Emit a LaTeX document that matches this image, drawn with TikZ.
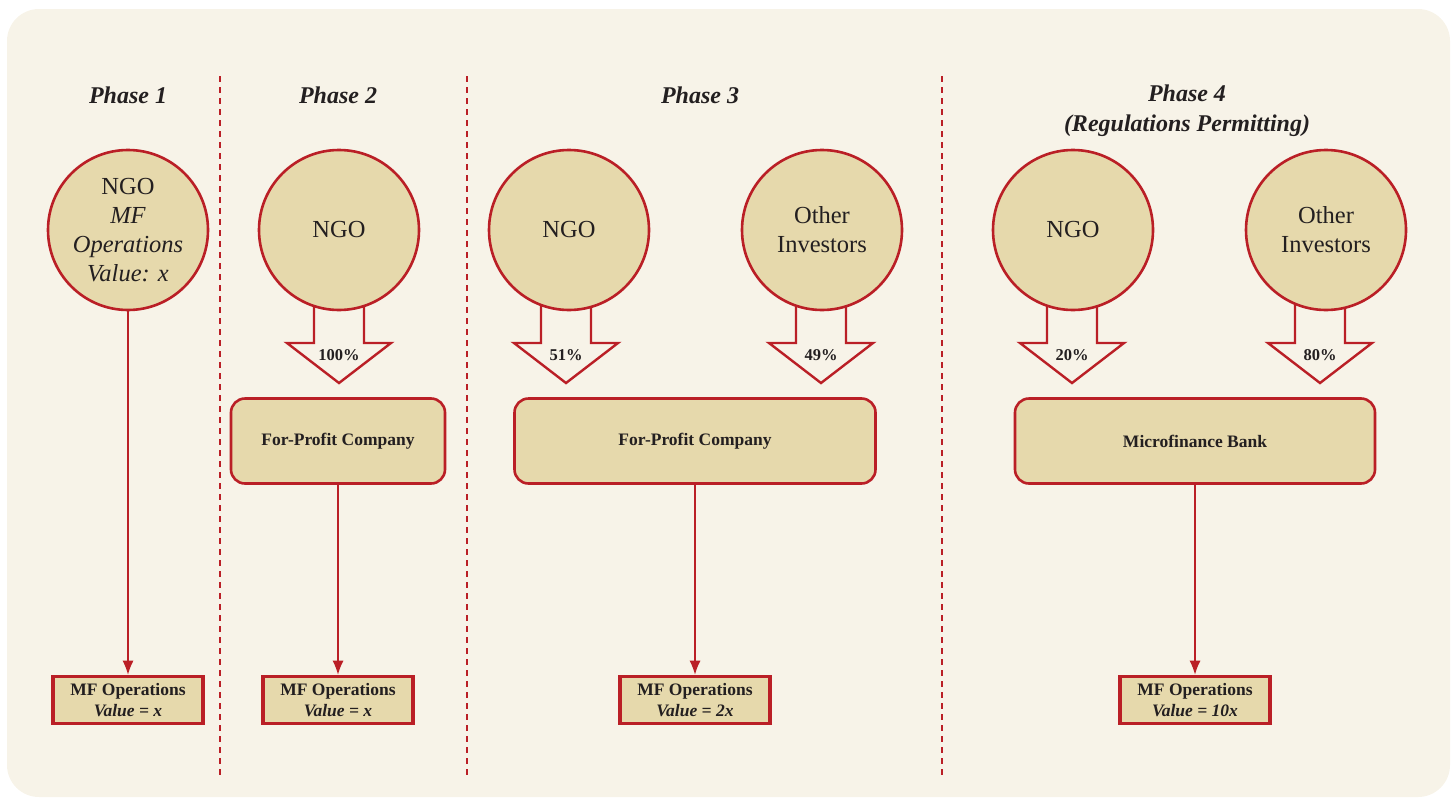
\documentclass[tikz,border=0pt]{standalone}
\usepackage{fontspec}
\setmainfont{Liberation Serif}
\usetikzlibrary{arrows.meta}
\definecolor{bgc}{HTML}{F7F3E8}
\definecolor{myred}{HTML}{BA1F26}
\definecolor{fillc}{HTML}{E6D9AC}
\definecolor{txt}{HTML}{231F20}
\newcommand\blockarr[3]{%
  \draw[blk] ({#1-25},300) -- ({#1-25},343) -- ({#1-52},343) -- (#1,383) -- ({#1+52},343) -- ({#1+25},343) -- ({#1+25},300);
  \node[pct] (#3) at (#1,355) {#2};
}
\tikzset{
  circ/.style={circle, draw=myred, line width=2.6pt, fill=fillc, minimum size=160pt, inner sep=0pt, align=center, text=txt, font=\fontsize{24.5}{29}\selectfont},
  blk/.style={draw=myred, line width=2.4pt, fill=bgc, line join=miter},
  pct/.style={font=\bfseries\fontsize{16.5}{18}\selectfont, text=txt, inner sep=0pt},
  rbox/.style={draw=myred, line width=2.6pt, fill=fillc, rounded corners=14pt, inner sep=0pt, text=txt, font=\bfseries\fontsize{17.5}{19}\selectfont},
  mfbox/.style={draw=myred, line width=3.6pt, fill=fillc, minimum width=150pt, minimum height=47pt, inner sep=0pt, align=center, text=txt, font=\bfseries\fontsize{17.5}{21}\selectfont},
  title/.style={font=\bfseries\itshape\fontsize{24}{30}\selectfont, text=txt, align=center},
  conn/.style={draw=myred, line width=1.3pt, -{Latex[length=14pt,width=11pt]}},
  sep/.style={draw=myred, line width=1.1pt, dash pattern=on 6pt off 5pt},
}
\begin{document}
\begin{tikzpicture}[x=1pt,y=-1pt]
\useasboundingbox (0,0) rectangle (1453,798);
\fill[bgc, rounded corners=32pt] (7,9) rectangle (1450,797);
% separators
\draw[sep] (220,76) -- (220,778);
\draw[sep] (467,76) -- (467,778);
\draw[sep] (942,76) -- (942,778);
% titles
\node[title] (t1) at (128,95) {Phase 1};
\node[title] (t2) at (338,95) {Phase 2};
\node[title] (t3) at (700,95) {Phase 3};
\node[title] (t4) at (1187,111) {Phase 4\\(Regulations Permitting)};
% block arrows (drawn before circles)
\blockarr{339}{100\%}{p2}
\blockarr{566}{51\%}{p3a}
\blockarr{821}{49\%}{p3b}
\blockarr{1072}{20\%}{p4a}
\blockarr{1320}{80\%}{p4b}
% circles
\node[circ] (c1) at (128,230) {NGO\\\itshape MF\\\itshape Operations\\\itshape Value: x};
\node[circ] (c2) at (339,230) {NGO};
\node[circ] (c3a) at (569,230) {NGO};
\node[circ] (c3b) at (822,230) {Other\\Investors};
\node[circ] (c4a) at (1073,230) {NGO};
\node[circ] (c4b) at (1326,230) {Other\\Investors};
% rounded boxes
\node[rbox, minimum width=214pt, minimum height=85pt] (b2) at (338,441) {For-Profit Company};
\node[rbox, minimum width=361pt, minimum height=85pt] (b3) at (695,441) {For-Profit Company};
\node[rbox, minimum width=360pt, minimum height=85pt] (b4) at (1195,441) {Microfinance Bank};
% MF boxes
\node[mfbox] (m1) at (128,700) {MF Operations\\\itshape Value = x};
\node[mfbox] (m2) at (338,700) {MF Operations\\\itshape Value = x};
\node[mfbox] (m3) at (695,700) {MF Operations\\\itshape Value = 2x};
\node[mfbox] (m4) at (1195,700) {MF Operations\\\itshape Value = 10x};
% connectors
\draw[conn] (c1.south) -- (m1.north);
\draw[conn] (b2.south) -- (m2.north);
\draw[conn] (b3.south) -- (m3.north);
\draw[conn] (b4.south) -- (m4.north);
\end{tikzpicture}
\end{document}
